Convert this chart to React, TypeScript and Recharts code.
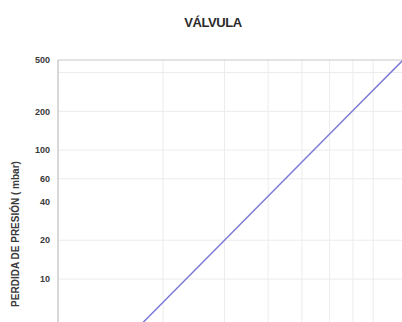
import { LineChart, Line, XAxis, YAxis, CartesianGrid, ReferenceLine } from "recharts";

// caudal (x, log) vs pérdida de presión (y, log)
const flow = [1, 2, 3, 5, 7, 9.75];
const pressureDrop = [1, 6.6, 20, 81, 203, 500];

const xTicks = [1, 2, 3, 4, 5, 6, 7, 8, 9, 10];
const yTicks = [10, 20, 40, 60, 100, 200, 500];
const yGrid = [10, 20, 40, 60, 100, 200, 300, 400];

const data = flow.map((q, i) => ({ flow: q, drop: pressureDrop[i] }));

const FONT = "'Liberation Sans', Arial, sans-serif";

// the x labels sit below the cropped area in the reference
const NoTick = () => <g />;

export default function App() {
  return (
    <div
      style={{
        position: "fixed",
        left: 0,
        top: 0,
        width: 402,
        height: 322,
        overflow: "hidden",
        background: "#fff",
        fontFamily: FONT,
      }}
    >
      <div
        style={{
          position: "absolute",
          left: 153,
          top: 15,
          width: 120,
          textAlign: "center",
          fontSize: 13,
          fontWeight: "bold",
          color: "#2a2a2a",
          letterSpacing: -0.4,
        }}
      >
        VÁLVULA
      </div>
      <LineChart
        width={430}
        height={440}
        data={data}
        margin={{ top: 60, right: 23, left: 0, bottom: 2 }}
      >
        <CartesianGrid
          stroke="#ececec"
          horizontalValues={yGrid}
          verticalValues={xTicks}
        />
        <XAxis
          dataKey="flow"
          type="number"
          scale="log"
          domain={[1, 10]}
          ticks={xTicks}
          height={30}
          allowDataOverflow
          tick={NoTick}
          tickLine={false}
          axisLine={false}
        />
        <YAxis
          type="number"
          scale="log"
          domain={[1, 500]}
          ticks={yTicks}
          width={58}
          allowDataOverflow
          tickLine={false}
          stroke="#bbb"
          tick={{ fontSize: 9, fill: "#3a3a3a", fontWeight: "bold", fontFamily: FONT }}
          label={{
            value: "PERDIDA DE PRESIÓN  ( mbar)",
            angle: -90,
            position: "insideLeft",
            offset: 15,
            style: { textAnchor: "middle", fontSize: 10, fontWeight: "bold", fill: "#3a3a3a", fontFamily: FONT },
          }}
        />
        <ReferenceLine y={500} stroke="#c8c8c8" />
        <Line
          dataKey="drop"
          stroke="#7b7bd6"
          strokeWidth={1.5}
          dot={false}
          isAnimationActive={false}
        />
      </LineChart>
    </div>
  );
}
